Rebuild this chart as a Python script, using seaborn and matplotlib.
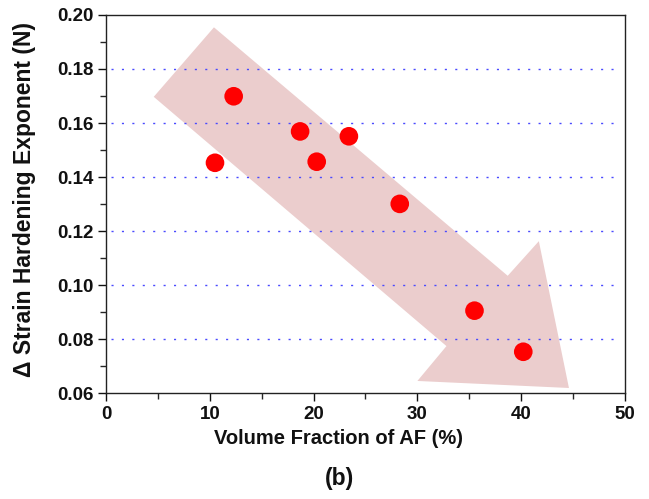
import matplotlib
matplotlib.use("Agg")
import matplotlib.pyplot as plt
import seaborn as sns
import pandas as pd
from matplotlib.ticker import MultipleLocator

# Data
volume_fraction_af = [10.5, 12.3, 18.7, 20.3, 23.4, 28.3, 35.5, 40.2]
delta_n = [0.1453, 0.1699, 0.1569, 0.1457, 0.1551, 0.1301, 0.0906, 0.0754]

# Decorative trend arrow outline (data coordinates)
arrow_x = [4.6, 10.4, 38.7, 41.7, 44.6, 30.0, 32.8]
arrow_y = [0.1697, 0.1954, 0.1035, 0.1163, 0.0620, 0.0646, 0.0775]

x_ticks = [0, 10, 20, 30, 40, 50]
y_ticks = [0.06, 0.08, 0.10, 0.12, 0.14, 0.16, 0.18, 0.20]

df = pd.DataFrame({"vf": volume_fraction_af, "dn": delta_n})

sns.set_style("ticks")
plt.rcParams["font.family"] = ["Liberation Sans", "DejaVu Sans"]
plt.rcParams["font.weight"] = "bold"

fig = plt.figure(figsize=(6.49, 4.99), dpi=100)
ax = fig.add_axes([106 / 649, 1 - 393.4 / 499, (625 - 106) / 649, (393.4 - 14.9) / 499])

ax.fill(arrow_x, arrow_y, color="#ebcdcd", zorder=1, lw=0)

for yv in y_ticks[1:-1]:
    ax.axhline(yv, xmin=0.01, xmax=0.99, color="#4a4aff", lw=1.0, ls=(0, (1.5, 6)), zorder=2)

sns.scatterplot(data=df, x="vf", y="dn", ax=ax, color="#ff0000", s=180,
                edgecolor="none", linewidth=0, zorder=3, legend=False)

ax.set_xlim(0, 50)
ax.set_ylim(0.06, 0.20)
ax.set_xticks(x_ticks)
ax.set_yticks(y_ticks)
ax.set_yticklabels([f"{v:.2f}" for v in y_ticks])
ax.xaxis.set_minor_locator(MultipleLocator(5))
ax.yaxis.set_minor_locator(MultipleLocator(0.01))
ax.tick_params(which="major", direction="out", length=6, width=1, labelsize=13.5, colors="#111111", pad=3)
ax.tick_params(which="minor", direction="out", length=4, width=1)
for lab in ax.get_xticklabels() + ax.get_yticklabels():
    lab.set_fontweight("bold")
for sp in ax.spines.values():
    sp.set_visible(True)
    sp.set_linewidth(1.0)
    sp.set_color("#222222")

ax.set_xlabel("")
ax.set_ylabel("")
fig.text(338 / 649, 1 - 438 / 499, "Volume Fraction of AF (%)", ha="center", va="center",
         fontsize=14.5, fontweight="bold", color="#111111")
fig.text(339 / 649, 1 - 478 / 499, "(b)", ha="center", va="center",
         fontsize=16.5, fontweight="bold", color="#111111")
fig.text(25 / 649, 1 - 199 / 499, "\u0394 Strain Hardening Exponent (N)", ha="center", va="center",
         rotation=90, fontsize=16.5, fontweight="bold", color="#111111")

fig.savefig("out.png", dpi=100)
